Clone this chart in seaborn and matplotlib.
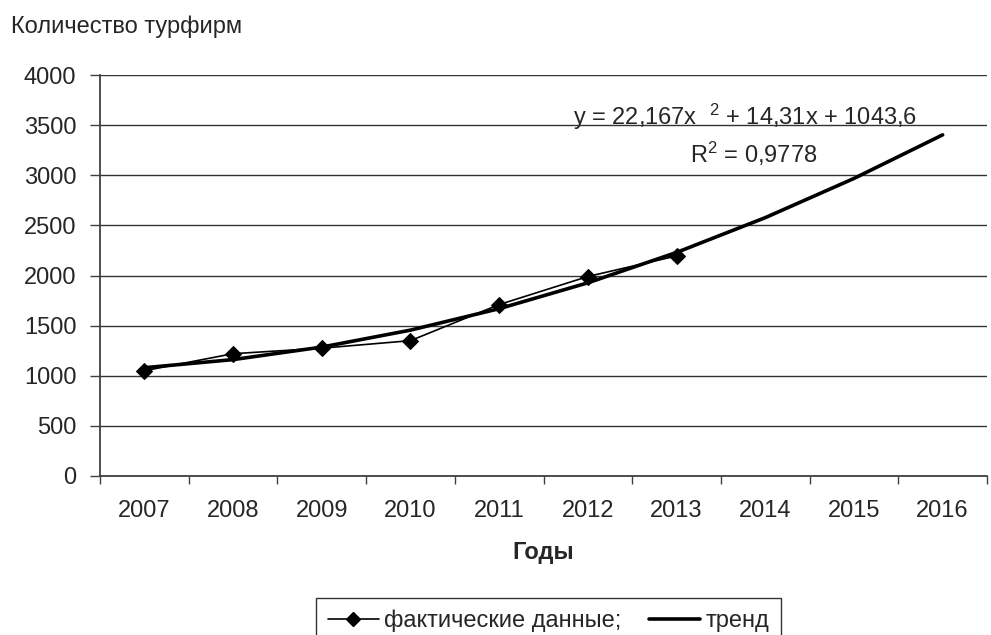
import matplotlib
matplotlib.use("Agg")
import matplotlib.pyplot as plt
from matplotlib.lines import Line2D
import seaborn as sns
import pandas as pd
import numpy as np

years = ["2007", "2008", "2009", "2010", "2011", "2012", "2013", "2014", "2015", "2016"]
actual = [1050, 1220, 1275, 1350, 1710, 1990, 2195]
trend = [1080, 1161, 1286, 1455, 1669, 1927, 2230, 2577, 2968, 3403]

df_actual = pd.DataFrame({"pos": np.arange(len(actual)), "value": actual})
df_trend = pd.DataFrame({"pos": np.arange(len(trend)), "value": trend})

sns.set_style("white")
plt.rcParams["font.family"] = ["Liberation Sans", "DejaVu Sans"]
plt.rcParams["mathtext.default"] = "regular"

FS = 17
axcol = "#404040"

fig = plt.figure(figsize=(9.91, 6.35), dpi=100)
ax = fig.add_axes([100 / 991, 1 - 476 / 635, 887 / 991, 401 / 635])

sns.lineplot(data=df_trend, x="pos", y="value", ax=ax, color="black", lw=2.6)
sns.lineplot(data=df_actual, x="pos", y="value", ax=ax, color="black", lw=1.2,
             marker="D", markersize=8.5, markeredgecolor="black")

ax.set_xlim(-0.5, len(years) - 0.5)
ax.set_ylim(0, 4000)
ax.set_yticks(range(0, 4001, 500))
ax.yaxis.grid(True, color="#333333", lw=1)
ax.set_axisbelow(True)

# ticks between categories, labels centred on categories
ax.set_xticks(np.arange(-0.5, len(years), 1.0))
ax.set_xticklabels([])
ax.set_xticks(np.arange(len(years)), minor=True)
ax.set_xticklabels(years, minor=True, fontsize=FS)
ax.tick_params(axis="x", which="major", length=6, width=1, color=axcol, direction="out", bottom=True)
ax.tick_params(axis="x", which="minor", length=0, pad=17)
ax.tick_params(axis="y", length=7, width=1, color=axcol, direction="out", left=True, labelsize=FS, pad=10)

for side in ["top", "right"]:
    ax.spines[side].set_visible(False)
for side in ["left", "bottom"]:
    ax.spines[side].set_color(axcol)
    ax.spines[side].set_linewidth(1.3)

ax.set_xlabel("Годы", fontsize=FS, fontweight="bold", labelpad=14)
ax.set_ylabel("")

fig.text(11 / 991, 1 - 27 / 635, "Количество турфирм", fontsize=FS, va="center", ha="left")

ax.text((573 - 100) / 887, (476 - 117) / 401, "y = 22,167x  $^{2}$ + 14,31x + 1043,6",
        transform=ax.transAxes, fontsize=FS, ha="left", va="center")
ax.text((690 - 100) / 887, (476 - 154) / 401, "R$^{2}$ = 0,9778",
        transform=ax.transAxes, fontsize=FS, ha="left", va="center")

handles = [
    Line2D([], [], color="black", lw=1.2, marker="D", markersize=7),
    Line2D([], [], color="black", lw=2.6),
]
leg = fig.legend(handles, ["фактические данные;", "тренд"], loc="upper left",
                 bbox_to_anchor=(316 / 991, 1 - 598 / 635), ncol=2, fontsize=FS,
                 frameon=True, fancybox=False, edgecolor="black", handlelength=2.15,
                 columnspacing=1.15, borderpad=0.5, handletextpad=0.25, borderaxespad=0)
leg.get_frame().set_linewidth(1)

fig.savefig("out.png", dpi=100)
